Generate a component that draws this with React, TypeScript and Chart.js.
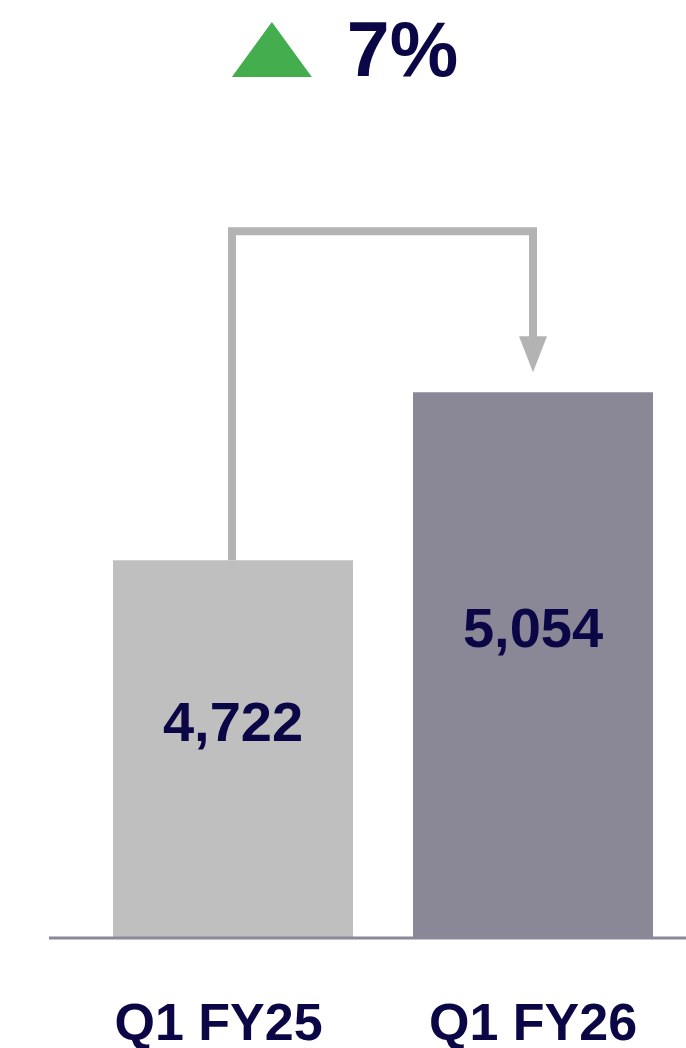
import React, { useEffect, useRef } from "react";
import { Chart, registerables } from "chart.js";

Chart.register(...registerables);

const categories = ["Q1 FY25", "Q1 FY26"];
const values = [4722, 5054];
const valueLabels = ["4,722", "5,054"];
const barColors = ["#bfbfbf", "#8a8797"];
const changeText = "7%";

const NAVY = "#0b0746";
const FONT = "'Liberation Sans', Arial, sans-serif";

const overlayPlugin = {
  id: "overlay",
  afterDatasetsDraw(chart: any) {
    const { ctx, chartArea, width } = chart;
    const meta = chart.getDatasetMeta(0);
    const p1 = meta.data[0].getProps(["x", "y"], true);
    const p2 = meta.data[1].getProps(["x", "y"], true);
    const base = chartArea.bottom;
    ctx.save();

    // baseline
    ctx.strokeStyle = "#8c889a";
    ctx.lineWidth = 3;
    ctx.beginPath();
    ctx.moveTo(49, base + 1);
    ctx.lineTo(width, base + 1);
    ctx.stroke();

    // value labels
    ctx.fillStyle = NAVY;
    ctx.font = "bold 56px " + FONT;
    ctx.textAlign = "center";
    ctx.textBaseline = "middle";
    [p1, p2].forEach((p: any, i: number) => {
      const y = p.y + 0.44 * (base - p.y);
      ctx.fillText(valueLabels[i], p.x, y);
    });

    // connector arrow
    const levelY = p2.y - 161;
    const tipY = p2.y - 20;
    const headH = 36;
    const headW = 28;
    ctx.strokeStyle = "#b3b3b3";
    ctx.fillStyle = "#b3b3b3";
    ctx.lineWidth = 8;
    ctx.lineJoin = "miter";
    ctx.lineCap = "butt";
    ctx.beginPath();
    ctx.moveTo(p1.x - 1, p1.y);
    ctx.lineTo(p1.x - 1, levelY);
    ctx.lineTo(p2.x, levelY);
    ctx.lineTo(p2.x, tipY - headH + 1);
    ctx.stroke();
    ctx.beginPath();
    ctx.moveTo(p2.x - headW / 2, tipY - headH);
    ctx.lineTo(p2.x + headW / 2, tipY - headH);
    ctx.lineTo(p2.x, tipY);
    ctx.closePath();
    ctx.fill();

    // header: triangle + percentage
    ctx.font = "bold 77px " + FONT;
    const tw = ctx.measureText(changeText).width;
    const triW = 80;
    const gap = 35;
    const total = triW + gap + tw;
    const startX = width / 2 - total / 2 + 2;
    ctx.fillStyle = "#44ad4d";
    ctx.beginPath();
    ctx.moveTo(startX, 77);
    ctx.lineTo(startX + triW, 77);
    ctx.lineTo(startX + triW / 2, 22);
    ctx.closePath();
    ctx.fill();
    ctx.fillStyle = NAVY;
    ctx.textAlign = "left";
    ctx.textBaseline = "alphabetic";
    ctx.fillText(changeText, startX + triW + gap, 76);

    ctx.restore();
  },
};

export default function App() {
  const ref = useRef<HTMLCanvasElement>(null);
  useEffect(() => {
    document.body.style.margin = "0";
    const chart = new Chart(ref.current!, {
      type: "bar",
      data: {
        labels: categories,
        datasets: [
          {
            data: values,
            backgroundColor: barColors,
            borderWidth: 0,
            barPercentage: 0.8,
            categoryPercentage: 1,
          },
        ],
      },
      options: {
        animation: false,
        responsive: false,
        devicePixelRatio: 1,
        layout: { padding: { left: 83, right: 3, top: 116, bottom: 0 } },
        plugins: { legend: { display: false }, tooltip: { enabled: false }, title: { display: false } },
        scales: {
          y: { display: false, min: 3977, max: 5600 },
          x: {
            grid: { display: false, drawTicks: false },
            border: { display: false },
            afterFit: (scale: any) => {
              scale.height = 111;
              scale.paddingLeft = 0;
              scale.paddingRight = 0;
            },
            ticks: {
              color: NAVY,
              padding: 65,
              maxRotation: 0,
              autoSkip: false,
              callback: (_v: any, i: number) => (i === 0 ? categories[i] + "  " : categories[i]),
              font: { family: FONT, size: 52, weight: "bold", lineHeight: 0.9 },
            },
          },
        },
      },
      plugins: [overlayPlugin],
    });
    return () => chart.destroy();
  }, []);
  return <canvas ref={ref} width={686} height={1048} style={{ display: "block" }} />;
}
